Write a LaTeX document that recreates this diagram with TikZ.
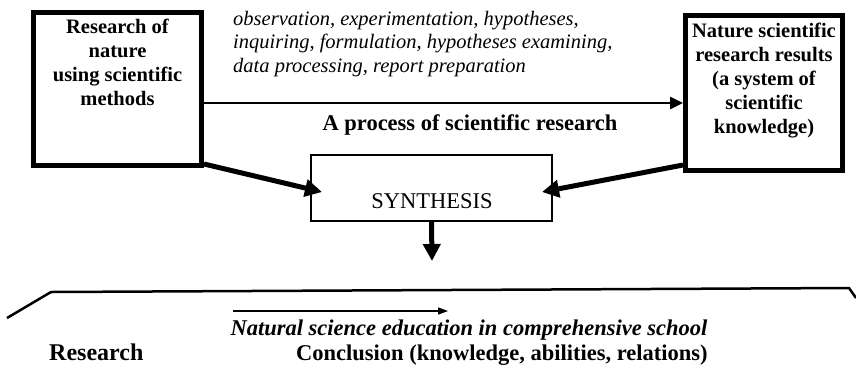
\documentclass[tikz,border=0pt]{standalone}
\usepackage{fontspec}
\setmainfont{Liberation Serif}
\usetikzlibrary{arrows.meta,calc}
\begin{document}
\begin{tikzpicture}[x=1pt,y=-1pt,
  bigbox/.style={draw,line width=5pt,inner sep=0pt},
  synbox/.style={draw,line width=2pt,inner sep=0pt,minimum width=241pt,minimum height=66pt},
  boxtext/.style={align=center,inner sep=0pt,font=\bfseries\fontsize{20.5}{24}\selectfont},
  listtext/.style={align=left,inner sep=0pt,font=\itshape\fontsize{20.5}{23.5}\selectfont},
  label/.style={inner sep=0pt,font=\bfseries\fontsize{22.5}{26}\selectfont},
  thinarrow/.style={line width=2.5pt,-{Triangle[length=13pt,width=12pt]}},
  thickarrow/.style={line width=5pt,-{Triangle[length=17pt,width=17pt]}},
  smallarrow/.style={line width=1.3pt,-{Triangle[length=10pt,width=7pt]}},
  baseline/.style={line width=2.5pt}
]
\useasboundingbox (0,0) rectangle (856,373);

% boxes
\node[bigbox,minimum width=168pt,minimum height=153pt] (lb) at (117.5,89) {};
\node[bigbox,minimum width=157pt,minimum height=155pt] (rb) at (764,93) {};
\node[synbox] (syn) at (431.5,188) {};

\node[boxtext,anchor=north] (lbt) at (117.5,19) {Research of\\nature\\using scientific\\methods};
\node[boxtext,anchor=north] (rbt) at (764,23) {Nature scientific\\research results\\(a system of\\scientific\\knowledge)};
\node[inner sep=0pt,anchor=base,font=\fontsize{22.5}{26}\selectfont] (synt) at (432,208) {SYNTHESIS};

% top list and label
\node[listtext,anchor=north west] (list) at (233,11) {observation, experimentation, hypotheses,\\inquiring, formulation, hypotheses examining,\\data processing, report preparation};
\node[label,anchor=base] (proc) at (470,130) {A process of scientific research};

% connectors
\coordinate (ls) at (lb.east |- 0,103);
\coordinate (rs) at (rb.west |- 0,103);
\draw[thinarrow] (ls) -- (rs);

\coordinate (lt) at ($(syn.west)+(12,4)$);
\coordinate (rt) at ($(syn.east)+(-11,4)$);
\draw[thickarrow] ($(lb.south east)+(0,-4)$) -- (lt);
\draw[thickarrow] ($(rb.south west)+(0,-8)$) -- (rt);
\coordinate (dt) at (432,261);
\draw[thickarrow] (syn.south) -- (dt);

% bottom timeline
\coordinate (bl1) at (7,318);
\coordinate (bl2) at (51,292);
\coordinate (br1) at (849,288);
\coordinate (br2) at (856,298);
\draw[baseline,line join=miter] (bl1) -- (bl2) -- (br1) -- (br2);

\coordinate (sa1) at (233,311);
\coordinate (sa2) at (448,311);
\draw[smallarrow] (sa1) -- (sa2);

\node[inner sep=0pt,anchor=base,font=\bfseries\itshape\fontsize{22.5}{26}\selectfont] (nat) at (469,335) {Natural science education in comprehensive school};
\node[inner sep=0pt,anchor=base west,font=\bfseries\fontsize{24}{28}\selectfont] (res) at (49,360) {Research};
\node[label,anchor=base west] (con) at (296,360) {Conclusion (knowledge, abilities, relations)};
\end{tikzpicture}
\end{document}
